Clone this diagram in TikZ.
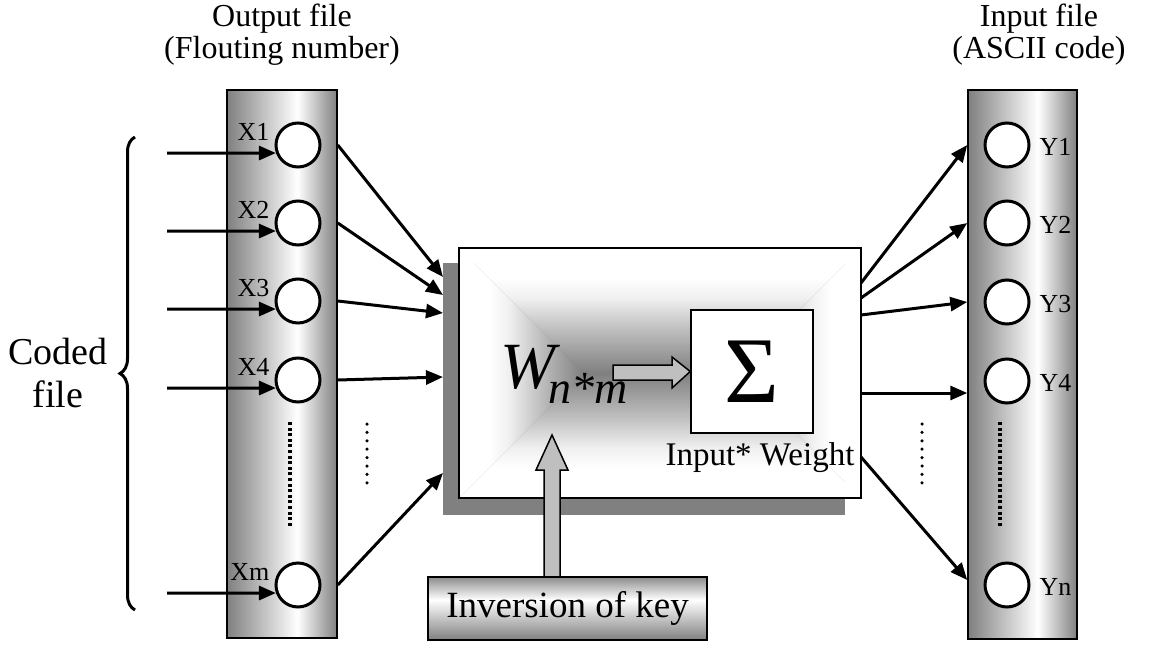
\documentclass[tikz,border=0pt]{standalone}
\usepackage{fontspec}
\setmainfont{Liberation Serif}
\usetikzlibrary{arrows.meta,positioning,decorations.pathreplacing}

\pgfdeclarehorizontalshading{colshade}{100bp}{color(0bp)=(black!50); color(25bp)=(black!50); color(57bp)=(white); color(75bp)=(black!50); color(100bp)=(black!50)}
\pgfdeclareverticalshading{boxfade}{100bp}{color(0bp)=(black!50); color(25bp)=(black!50); color(42bp)=(black!26); color(55bp)=(black!6); color(63bp)=(white); color(100bp)=(white)}
\pgfdeclareverticalshading{keyshade}{100bp}{color(0bp)=(black!50); color(25bp)=(black!50); color(57bp)=(white); color(75bp)=(black!45); color(100bp)=(black!45)}

\begin{document}
\begin{tikzpicture}[x=1pt,y=-1pt,
  colbox/.style={draw, line width=1.5pt, shading=colshade, minimum width=110pt, minimum height=548pt, inner sep=0pt},
  neuron/.style={circle, draw, line width=3pt, fill=white, minimum size=44pt, inner sep=0pt},
  lbl/.style={font=\fontsize{26}{26}\selectfont, inner sep=0pt},
  title/.style={align=center, font=\fontsize{32}{32}\selectfont},
  arr/.style={line width=3pt, -{Triangle[length=17pt,width=14pt]}},
  blockarr/.style={draw, line width=1.5pt, fill=black!25},
  ]
\useasboundingbox (0,0) rectangle (1149,648);

% Columns
\node[colbox] (outcol) at (282,364) {};
\node[colbox, minimum width=109pt, minimum height=549pt] (incol) at (1022.5,364.5) {};
\node[title] (outtitle) at (282,35) {Output file\\(Flouting number)};
\node[title] (intitle) at (1039,35) {Input file\\(ASCII code)};

% Input neurons
\foreach \n/\y in {1/145,2/223,3/301,4/380,m/585} {
  \node[neuron] (x\n) at (298,\y) {};
  \node[lbl, anchor=base east] (lx\n) at ([xshift=-5pt, yshift=5pt]x\n.west) {X\n};
  \coordinate (s\n) at (167,\y+8);
  \draw[arr] (s\n) -- (x\n.200);
}
\draw[line width=3.5pt, dash pattern=on 3pt off 2.6pt] (290,422) -- (290,527);

% Output neurons
\foreach \n/\y in {1/145,2/223,3/302,4/381,n/585} {
  \node[neuron] (y\n) at (1007,\y) {};
  \node[lbl, anchor=west] (ly\n) at ([xshift=9pt, yshift=-2pt]y\n.east) {Y\n};
}
\draw[line width=3.5pt, dash pattern=on 3pt off 2.6pt] (1000,422) -- (1000,527);

% Coded file
\draw[line width=3pt, decorate, decoration={brace, amplitude=15pt}] (135,610) -- (135,137);
\node[align=center, font=\fontsize{38}{43}\selectfont] (coded) at (58,373) {Coded\\file};

% Weight box
\node[fill=black!50, minimum width=402pt, minimum height=252pt, inner sep=0pt] (shadow) at (644,389) {};
\node[minimum width=402pt, minimum height=250pt, inner sep=0pt] (wbox) at (660,373) {};
\shade[shading=boxfade] (459,248) -- (861,248) -- (736,373) -- (584,373) -- cycle;
\shade[shading=boxfade, shading angle=180] (459,498) -- (861,498) -- (736,373) -- (584,373) -- cycle;
\shade[shading=boxfade, shading angle=90] (459,248) -- (584,373) -- (459,498) -- cycle;
\shade[shading=boxfade, shading angle=-90] (861,248) -- (736,373) -- (861,498) -- cycle;
\draw[line width=1.5pt] (wbox.north west) rectangle (wbox.south east);

\node[draw, line width=1.5pt, fill=white, minimum width=122pt, minimum height=123pt, inner sep=0pt,
  font=\fontsize{94}{94}\selectfont] (sum) at (752,371.5) {Σ};
\node[font=\fontsize{33}{33}\selectfont] (wlabel) at (760,458) {Input* Weight};
\node[anchor=base west, inner sep=0pt] (wnm) at (500,388)
  {\fontsize{66}{66}\selectfont\itshape W\kern-7pt\raisebox{-15pt}{\fontsize{46}{46}\selectfont n*m}};
\draw[blockarr] (613,365) -- (672,365) -- (672,357) -- (sum.west) -- (672,388) -- (672,380) -- (613,380) -- cycle;

% Key
\draw[blockarr] (544,577) -- (544,470) -- (536,470) -- (552,435) -- (568,470) -- (560,470) -- (560,577) -- cycle;
\node[draw, line width=2pt, shading=keyshade, minimum width=279pt, minimum height=63pt, inner sep=0pt,
  font=\fontsize{37}{37}\selectfont] (key) at (567.5,608.5) {Inversion of key};

% Connections into the box
\coordinate (e1) at (443,277);
\coordinate (e2) at (443,295);
\coordinate (e3) at (443,313);
\coordinate (e4) at (443,377);
\coordinate (em) at (443,473);
\foreach \n in {1,2,3,4,m}
  \draw[arr] (outcol.east |- x\n) -- (e\n);
\draw[line width=3.5pt, line cap=round, dash pattern=on 0pt off 8.4pt] (367,424) -- (367,484);

% Connections out of the box
\coordinate (r1) at (861,283);
\coordinate (r2) at (861,298);
\coordinate (r3) at (861,315);
\coordinate (r4) at (861,393);
\coordinate (rn) at (861,457);
\foreach \n in {1,2,3}
  \draw[arr] (r\n) -- (incol.west |- y\n);
\draw[arr] (r4) -- (incol.west |- r4);
\draw[arr] (rn) -- ([yshift=5pt]incol.west |- yn);
\draw[line width=3.5pt, line cap=round, dash pattern=on 0pt off 8.4pt] (922,424) -- (922,484);
\end{tikzpicture}
\end{document}
